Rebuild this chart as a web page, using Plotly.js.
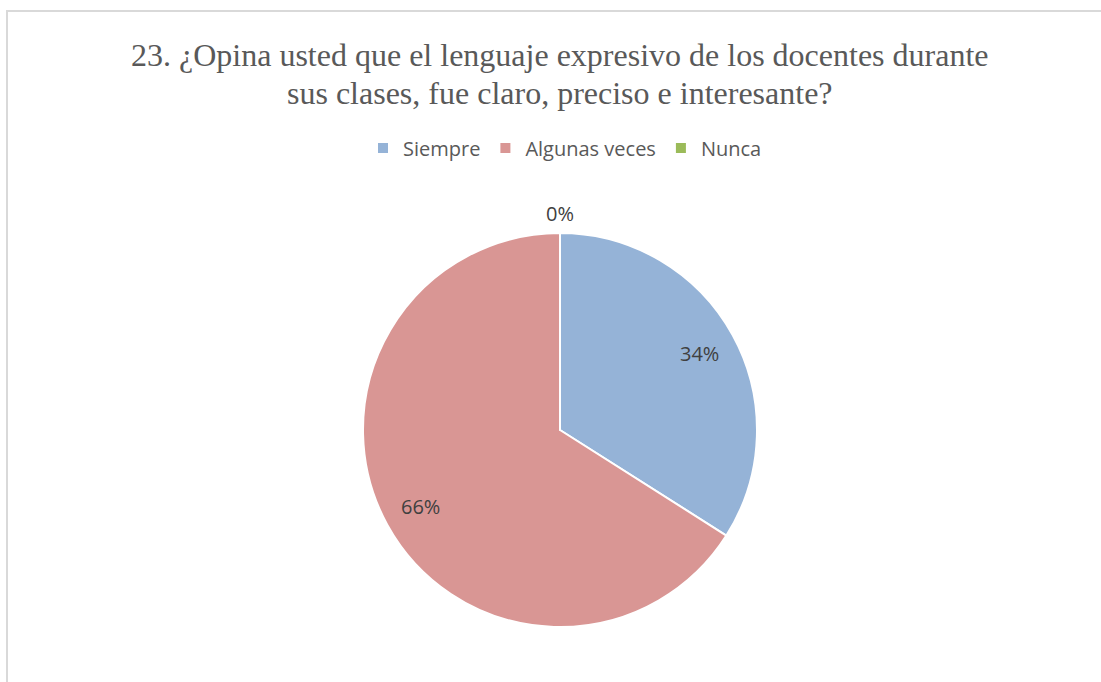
<!DOCTYPE html>
<html>
<head>
<meta charset="utf-8">
<script src="https://cdn.plot.ly/plotly-3.0.1.min.js"></script>
<style>
  html, body { margin: 0; padding: 0; background: #fff; }
  #wrap { position: relative; width: 1101px; height: 682px; overflow: hidden; }
  #chart { position: absolute; left: 0; top: 0; width: 1101px; height: 682px; }
  #frame { position: absolute; left: 6px; top: 10px; width: 1200px; height: 800px;
           border-top: 2px solid #d9d9d9; border-left: 2px solid #d9d9d9; pointer-events: none; }
</style>
</head>
<body>
<div id="wrap">
  <div id="chart"></div>
  <div id="frame"></div>
</div>
<script>
const categories = ["Siempre", "Algunas veces", "Nunca"];
const values = [34, 66, 0];
const labelsText = ["34%", "66%", "0%"];
const colors = ["#95B3D7", "#D99694", "#9BBB59"];
const titleLines = [
  "23. ¿Opina usted que el lenguaje expresivo de los docentes durante",
  "sus clases, fue claro, preciso e interesante?"
];

const W = 1101, H = 682;
const cx = 560, cy = 430, R = 197;

const trace = {
  type: "pie",
  labels: categories,
  values: values,
  sort: false,
  direction: "clockwise",
  rotation: 0,
  textinfo: "none",
  hoverinfo: "label+percent",
  marker: { colors: colors, line: { color: "#ffffff", width: 2 } },
  domain: { x: [(cx - R) / W, (cx + R) / W], y: [1 - (cy + R) / H, 1 - (cy - R) / H] },
  showlegend: true
};

// label positions derived from the slice values
const total = values.reduce((a, b) => a + b, 0);
let cum = 0;
const annotations = [];
values.forEach((v, i) => {
  const mid = (cum + v / 2) / total * 2 * Math.PI;
  cum += v;
  const f = v === 0 ? 1.1 : 0.81;
  const px = cx + f * R * Math.sin(mid);
  const py = cy - f * R * Math.cos(mid);
  annotations.push({
    xref: "paper", yref: "paper",
    x: px / W, y: 1 - py / H,
    xanchor: "center", yanchor: "middle",
    text: labelsText[i], showarrow: false,
    font: { family: "Open Sans, Noto Sans, sans-serif", size: 20, color: "#404040" }
  });
});

const titleY = [55, 93];
titleLines.forEach((t, i) => {
  annotations.push({
    xref: "paper", yref: "paper",
    x: 560 / W, y: 1 - titleY[i] / H,
    xanchor: "center", yanchor: "middle",
    text: t, showarrow: false,
    font: { family: "Liberation Serif, Times New Roman, serif", size: 32, color: "#595959" }
  });
});

const layout = {
  width: W, height: H,
  margin: { l: 0, r: 0, t: 0, b: 0 },
  paper_bgcolor: "#ffffff",
  legend: {
    orientation: "h",
    x: 565 / W, xanchor: "center",
    y: 1 - 148 / H, yanchor: "middle",
    font: { family: "Open Sans, Noto Sans, sans-serif", size: 20, color: "#595959" },
    itemwidth: 30,
    traceorder: "normal"
  },
  annotations: annotations
};

Plotly.newPlot("chart", [trace], layout, { displayModeBar: false, staticPlot: true });
</script>
</body>
</html>
